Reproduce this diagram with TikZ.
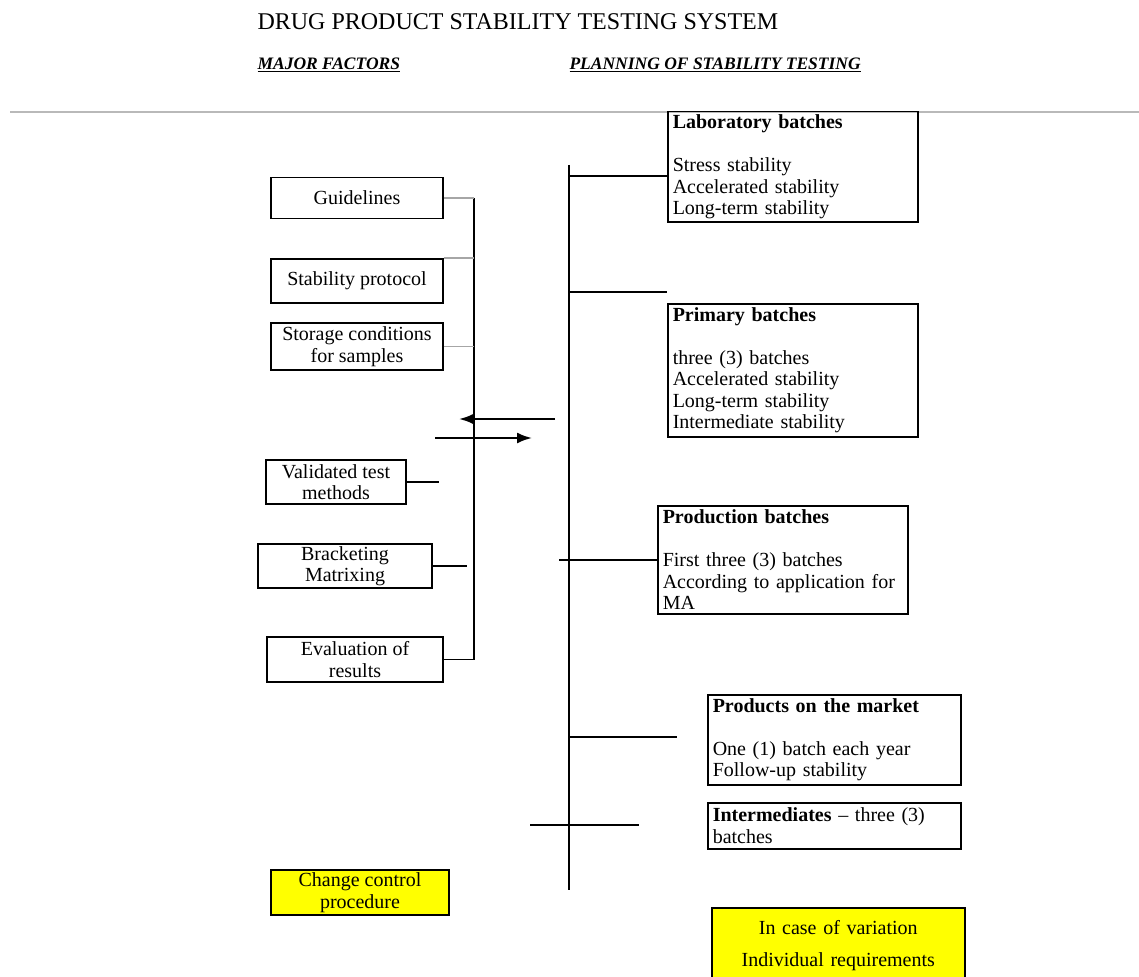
\documentclass[tikz,border=0pt]{standalone}
\usepackage{fontspec}
\setmainfont{Liberation Serif}
\usetikzlibrary{positioning,arrows.meta}

\begin{document}
\begin{tikzpicture}[x=1pt,y=-1pt,font=\fontsize{20}{21.5}\selectfont,
		factor/.style={draw,line width=1.5pt,align=center,inner sep=1pt},
		batch/.style={draw,line width=1.5pt,anchor=north west,align=left,
			inner xsep=5pt,inner ysep=3pt},
		trunk/.style={line width=1.8pt},
		branch/.style={line width=1.5pt},
		feed/.style={line width=1.8pt,gray!70},
		flow/.style={line width=2.2pt,-{Latex[length=15pt,width=11pt]}}]
	%%% Colores
	\definecolor{noteyellow}{RGB}{255,255,0}
	\useasboundingbox (0,0) rectangle (1139,976);

	%%% Titulo y cabeceras
	\node[anchor=west,font=\fontsize{24}{27}\selectfont] (title) at (254,22) {DRUG PRODUCT STABILITY TESTING SYSTEM};
	\node[anchor=west,font=\fontsize{17.5}{19}\selectfont\bfseries\itshape] (majorhd) at (254,65) {\underline{MAJOR FACTORS}};
	\node[anchor=west,font=\fontsize{17.5}{19}\selectfont\bfseries\itshape] (planhd) at (566,65) {\underline{PLANNING OF STABILITY TESTING}};
	\draw[line width=1.5pt,gray!55] (10,112) -- (1139,112);

	%%% Factores (columna izquierda)
	\node[factor,minimum width=172,minimum height=41] (guide) at (357,198) {Guidelines};
	\node[factor,minimum width=172,minimum height=44] (proto) at (357,281) {Stability protocol};
	\node[factor,minimum width=172,minimum height=47] (store) at (357,346.5) {Storage conditions\\for samples};
	\node[factor,minimum width=140,minimum height=44] (valid) at (336,482) {Validated test\\methods};
	\node[factor,minimum width=174,minimum height=44] (brack) at (345,566) {Bracketing\\Matrixing};
	\node[factor,minimum width=176,minimum height=45] (evalr) at (355,659.5) {Evaluation of\\results};
	\node[factor,fill=noteyellow,minimum width=178,minimum height=45] (change) at (360,892.5) {Change control\\procedure};

	%%% Eje izquierdo
	\coordinate (ltop) at (474,198);
	\draw[trunk] (ltop) -- (evalr.east -| ltop) -- (evalr.east);
	\draw[feed] (guide.east) -- (ltop);
	\draw[feed] (proto.north east) -- (proto.north east -| ltop);
	\draw[feed] (store.east) -- (store.east -| ltop);
	\draw[branch] (valid.east) -- ++(32,0) coordinate (vstub);
	\draw[branch] (brack.east) -- ++(34,0) coordinate (bstub);

	%%% Flechas entre columnas
	\coordinate (backs) at (555,419);
	\coordinate (backe) at (459,419);
	\coordinate (fwds) at (435,438);
	\coordinate (fwde) at (532,438);
	\draw[flow] (backs) -- (backe);
	\draw[flow] (fwds) -- (fwde);

	%%% Lotes (columna derecha)
	\node[batch,text width=240,minimum height=109] (lab) at (667,111)
		{\textbf{Laboratory batches}\\[21.5pt]Stress stability\\Accelerated stability\\Long-term stability};
	\node[batch,text width=240,minimum height=133] (prim) at (667,303)
		{\textbf{Primary batches}\\[21.5pt]three (3) batches\\Accelerated stability\\Long-term stability\\Intermediate stability};
	\node[batch,text width=240,minimum height=108] (prod) at (657,505)
		{\textbf{Production batches}\\[21.5pt]First three (3) batches\\According to application for\\MA};
	\node[batch,text width=243,minimum height=90] (mkt) at (707,694)
		{\textbf{Products on the market}\\[21.5pt]One (1) batch each year\\Follow-up stability};
	\node[batch,text width=243,minimum height=46] (inter) at (707,802)
		{\textbf{Intermediates} -- three (3)\\batches};
	\node[batch,align=center,fill=noteyellow,text width=243,minimum height=76] (variation) at (711,907)
		{In case of variation\\[10pt]Individual requirements};

	%%% Eje derecho
	\coordinate (rtop) at (569,165);
	\coordinate (rbot) at (569,890);
	\draw[trunk] (rtop) -- (rbot);
	\coordinate (r1) at (569,176);
	\coordinate (r2) at (569,292);
	\coordinate (r3) at (559,560);
	\coordinate (r4) at (569,737);
	\coordinate (r4e) at (677,737);
	\coordinate (r5) at (530,825);
	\coordinate (r5e) at (639,825);
	\draw[branch] (r1) -- (r1 -| lab.west);
	\draw[branch] (r2) -- (r2 -| prim.west);
	\draw[branch] (r3) -- (r3 -| prod.west);
	\draw[branch] (r4) -- (r4e);
	\draw[branch] (r5) -- (r5e);
\end{tikzpicture}
\end{document}
